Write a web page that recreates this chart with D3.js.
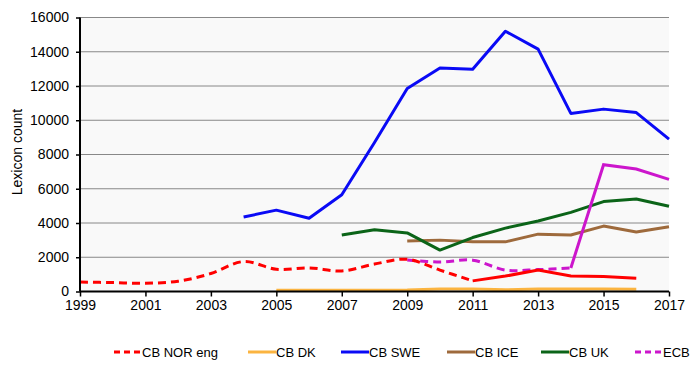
<!DOCTYPE html>
<html>
<head>
<meta charset="utf-8">
<script src="https://cdn.jsdelivr.net/npm/d3@7"></script>
<style>
  body { margin: 0; background: #fff; }
  text { font-family: "Liberation Sans", Arial, sans-serif; fill: #000; }
</style>
</head>
<body>
<div id="chart"></div>
<script>
var years = d3.range(1999, 2018);
var yTicks = [0, 2000, 4000, 6000, 8000, 10000, 12000, 14000, 16000];
var xTicks = [1999, 2001, 2003, 2005, 2007, 2009, 2011, 2013, 2015, 2017];

// values per year 1999..2017, null = no data
var cbNor = [550, 520, 480, 600, 1050, 1750, 1300, 1380, 1200, 1600, 1880, 1250, 620, 900, 1250, 900, 870, 780, null];
var cbDk  = [null, null, null, null, null, null, 80, 80, 80, 80, 90, 150, 150, 100, 150, 150, 140, 130, null];
var cbSwe = [null, null, null, null, null, 4350, 4750, 4280, 5650, 8700, 11850, 13050, 12980, 15200, 14150, 10400, 10650, 10450, 8900];
var cbIce = [null, null, null, null, null, null, null, null, null, null, 2950, 3000, 2900, 2900, 3350, 3300, 3820, 3480, 3780];
var cbUk  = [null, null, null, null, null, null, null, null, 3300, 3600, 3420, 2420, 3150, 3700, 4120, 4620, 5250, 5400, 4980];
var ecb   = [null, null, null, null, null, null, null, null, null, null, 1840, 1720, 1830, 1250, 1280, 1370, 7400, 7150, 6550];

var seriesNames = ["CB NOR eng", "CB DK", "CB SWE", "CB ICE", "CB UK", "ECB"];
var seriesValues = [cbNor, cbDk, cbSwe, cbIce, cbUk, ecb];

// drawing styles: colour, year up to which the line is dashed
var styles = [
  {color: "#ff0000", dashUntil: 2011},
  {color: "#fbb440", dashUntil: null},
  {color: "#0a0af5", dashUntil: null},
  {color: "#9e6a3c", dashUntil: null},
  {color: "#0b6418", dashUntil: null},
  {color: "#cc16cc", dashUntil: 2014}
];
// order in which lines are painted (last on top)
var drawOrder = [2, 3, 4, 5, 0, 1];

var svgWidth = 700, svgHeight = 367;
var margin = {top: 17.5, right: 31, bottom: 75.5, left: 80};
var width = svgWidth - margin.left - margin.right;
var height = svgHeight - margin.top - margin.bottom;

var svg = d3.select("#chart").append("svg")
  .attr("width", svgWidth)
  .attr("height", svgHeight);

var g = svg.append("g")
  .attr("transform", `translate(${margin.left}, ${margin.top})`);

var x = d3.scaleLinear().domain([1999, 2017]).range([0, width]);
var y = d3.scaleLinear().domain([0, 16000]).range([height, 0]);

g.append("rect")
  .attr("width", width)
  .attr("height", height)
  .attr("fill", "#f9f9f9");

g.append("g")
  .selectAll("line")
  .data(yTicks.filter(d => d > 0))
  .enter().append("line")
  .attr("x1", 0).attr("x2", width)
  .attr("y1", d => y(d)).attr("y2", d => y(d))
  .attr("stroke", "#888")
  .attr("stroke-width", 1);

// lines
var lineSolid = d3.line()
  .defined(d => d.v != null)
  .x(d => x(d.year))
  .y(d => y(d.v));
var lineSmooth = d3.line()
  .defined(d => d.v != null)
  .curve(d3.curveCatmullRom.alpha(0.5))
  .x(d => x(d.year))
  .y(d => y(d.v));

drawOrder.forEach(function(i) {
  var pts = years.map((yr, k) => ({year: yr, v: seriesValues[i][k]}));
  var st = styles[i];
  if (st.dashUntil) {
    var dashed = pts.filter(p => p.year <= st.dashUntil && p.v != null);
    var solid = pts.filter(p => p.year >= st.dashUntil && p.v != null);
    g.append("path")
      .attr("d", lineSmooth(dashed))
      .attr("fill", "none")
      .attr("stroke", st.color)
      .attr("stroke-width", 3)
      .attr("stroke-dasharray", "8,5");
    g.append("path")
      .attr("d", lineSolid(solid))
      .attr("fill", "none")
      .attr("stroke", st.color)
      .attr("stroke-width", 3);
  } else {
    g.append("path")
      .attr("d", lineSolid(pts))
      .attr("fill", "none")
      .attr("stroke", st.color)
      .attr("stroke-width", 3)
      .attr("stroke-linejoin", "round");
  }
});

// axes
var leftAxis = d3.axisLeft(y).tickValues(yTicks).tickSize(4).tickPadding(7).tickFormat(d3.format("d"));
var bottomAxis = d3.axisBottom(x).tickValues(xTicks).tickSize(5).tickPadding(4).tickFormat(d3.format("d"));

var ya = g.append("g").call(leftAxis);
var xa = g.append("g").attr("transform", `translate(0, ${height})`).call(bottomAxis);

[ya, xa].forEach(function(a) {
  a.select(".domain").attr("stroke", "#000").attr("stroke-width", 2);
  a.selectAll(".tick line").attr("stroke", "#000").attr("stroke-width", 1.5);
  a.selectAll(".tick text").attr("font-size", 14).attr("font-family", "Liberation Sans, Arial, sans-serif").attr("fill", "#000");
});
ya.select(".domain").attr("d", `M0,0V${height}`);
xa.select(".domain").attr("d", `M0,0H${width}`);

svg.append("text")
  .attr("transform", "rotate(-90)")
  .attr("x", -152)
  .attr("y", 22)
  .attr("text-anchor", "middle")
  .attr("font-size", 14)
  .text("Lexicon count");

// legend
var legendX = [114, 248, 341, 447, 541, 635];
var legend = svg.append("g").attr("transform", "translate(0, 352)");
seriesNames.forEach(function(name, i) {
  var item = legend.append("g").attr("transform", `translate(${legendX[i]}, 0)`);
  item.append("line")
    .attr("x1", 0).attr("x2", 28)
    .attr("y1", 0).attr("y2", 0)
    .attr("stroke", styles[i].color)
    .attr("stroke-width", 3)
    .attr("stroke-dasharray", styles[i].dashUntil ? "6,4" : null);
  item.append("text")
    .attr("x", 28)
    .attr("y", 4.5)
    .attr("font-size", 13)
    .text(name);
});
</script>
</body>
</html>
